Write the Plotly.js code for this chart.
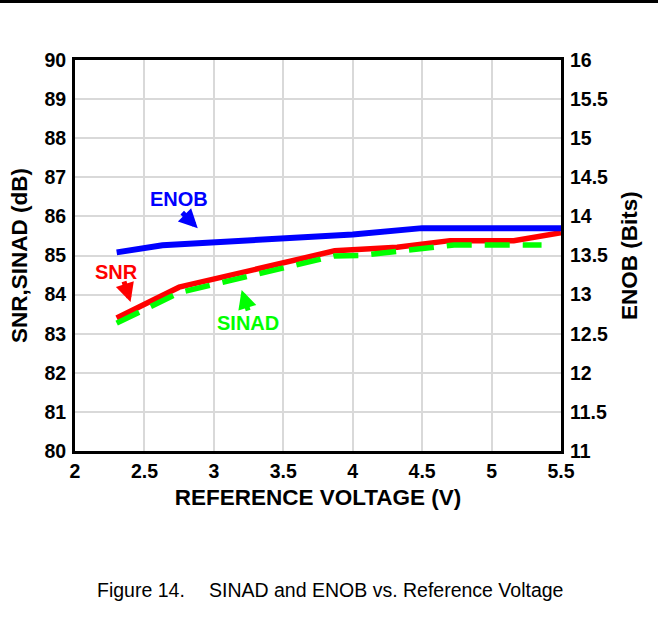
<!DOCTYPE html>
<html>
<head>
<meta charset="utf-8">
<script src="https://cdn.plot.ly/plotly-3.0.1.min.js"></script>
<style>
  html, body { margin: 0; padding: 0; background: #fff; }
  #chart { width: 658px; height: 619px; }
</style>
</head>
<body>
<div id="chart"></div>
<script>
// Data
const snrVoltage   = [2.3, 2.75, 3.87, 4.32, 4.7, 5.16, 5.5];
const snrDb        = [83.40, 84.19, 85.12, 85.21, 85.38, 85.38, 85.58];

const sinadVoltage = [2.3, 2.75, 3.87, 4.06, 4.6, 4.73, 5.36];
const sinadDb      = [83.27, 84.05, 84.99, 85.00, 85.22, 85.27, 85.27];

const enobVoltage  = [2.3, 2.63, 4.0, 4.5, 5.5];
const enobBits     = [13.54, 13.63, 13.77, 13.85, 13.85];

const xTicks  = [2, 2.5, 3, 3.5, 4, 4.5, 5, 5.5];
const yTicks  = [80, 81, 82, 83, 84, 85, 86, 87, 88, 89, 90];
const y2Ticks = [11, 11.5, 12, 12.5, 13, 13.5, 14, 14.5, 15, 15.5, 16];

const FONT = 'Liberation Sans, Arial, Helvetica, sans-serif';

const traces = [
  { x: enobVoltage, y: enobBits, yaxis: 'y2', mode: 'lines', name: 'ENOB',
    line: { color: '#0000ff', width: 6 } },
  { x: snrVoltage, y: snrDb, mode: 'lines', name: 'SNR',
    line: { color: '#ff0000', width: 5.5 } },
  { x: sinadVoltage, y: sinadDb, mode: 'lines', name: 'SINAD',
    line: { color: '#00ff00', width: 5.5, dash: '25px,13px' } }
];

const tickFont = { family: FONT, size: 19.5, color: '#000', weight: 'bold' };
const titleFont = { family: FONT, size: 22.5, color: '#000', weight: 'bold' };
const labelFont = (c) => ({ family: FONT, size: 20, color: c, weight: 'bold' });

const layout = {
  width: 658, height: 619,
  margin: { l: 75, r: 97, t: 60, b: 168, pad: 0 },
  paper_bgcolor: '#fff', plot_bgcolor: '#fff',
  showlegend: false,
  xaxis: {
    range: [2, 5.5], tickvals: xTicks, ticktext: xTicks.map(String),
    showgrid: true, gridcolor: '#d9d9d9', gridwidth: 2,
    showline: true, linecolor: '#000', linewidth: 3, mirror: true,
    ticks: '', zeroline: false, tickfont: tickFont, ticklabelstandoff: 1,
    title: { text: 'REFERENCE VOLTAGE (V)', font: titleFont, standoff: 8 }
  },
  yaxis: {
    range: [80, 90], tickvals: yTicks, ticktext: yTicks.map(String),
    showgrid: true, gridcolor: '#d9d9d9', gridwidth: 2,
    showline: true, linecolor: '#000', linewidth: 3, mirror: true,
    ticks: '', zeroline: false, tickfont: tickFont, ticklabelstandoff: 2,
    title: { text: 'SNR,SINAD (dB)', font: titleFont, standoff: 11 }
  },
  yaxis2: {
    range: [11, 16], tickvals: y2Ticks, ticktext: y2Ticks.map(String),
    overlaying: 'y', side: 'right', showgrid: false, zeroline: false,
    showline: false, ticks: '', tickfont: tickFont, ticklabelstandoff: 8,
    title: { text: 'ENOB (Bits)', font: titleFont, standoff: 14 }
  },
  shapes: [
    { type: 'rect', xref: 'paper', yref: 'paper',
      x0: -0.16, x1: 1.21, y0: 1.1458, y1: 1.16,
      fillcolor: '#000', line: { width: 0 } }
  ],
  annotations: [
    { x: 2.747, y: 86.45, xref: 'x', yref: 'y', text: 'ENOB', showarrow: false, font: labelFont('#0000ff') },
    { x: 2.30, y: 84.58, xref: 'x', yref: 'y', text: 'SNR', showarrow: false, font: labelFont('#ff0000') },
    { x: 3.245, y: 83.27, xref: 'x', yref: 'y', text: 'SINAD', showarrow: false, font: labelFont('#00ff00') },
    { x: 2.884, y: 85.70, xref: 'x', yref: 'y', text: '', showarrow: true, ax: -17, ay: -17,
      arrowcolor: '#0000ff', arrowwidth: 5, arrowhead: 2, arrowsize: 0.75 },
    { x: 2.40, y: 83.81, xref: 'x', yref: 'y', text: '', showarrow: true, ax: -7, ay: -22,
      arrowcolor: '#ff0000', arrowwidth: 5, arrowhead: 2, arrowsize: 0.75 },
    { x: 3.20, y: 84.12, xref: 'x', yref: 'y', text: '', showarrow: true, ax: 7, ay: 22,
      arrowcolor: '#00ff00', arrowwidth: 5, arrowhead: 2, arrowsize: 0.75 },
    { x: 0.0412, y: -0.3555, xref: 'paper', yref: 'paper', xanchor: 'left', yanchor: 'middle',
      text: 'Figure 14.', showarrow: false, font: { family: FONT, size: 19.5, color: '#000' } },
    { x: 0.272, y: -0.3555, xref: 'paper', yref: 'paper', xanchor: 'left', yanchor: 'middle',
      text: 'SINAD and ENOB vs. Reference Voltage', showarrow: false,
      font: { family: FONT, size: 19.5, color: '#000' } }
  ]
};

Plotly.newPlot('chart', traces, layout, { displayModeBar: false, staticPlot: true });
</script>
</body>
</html>
